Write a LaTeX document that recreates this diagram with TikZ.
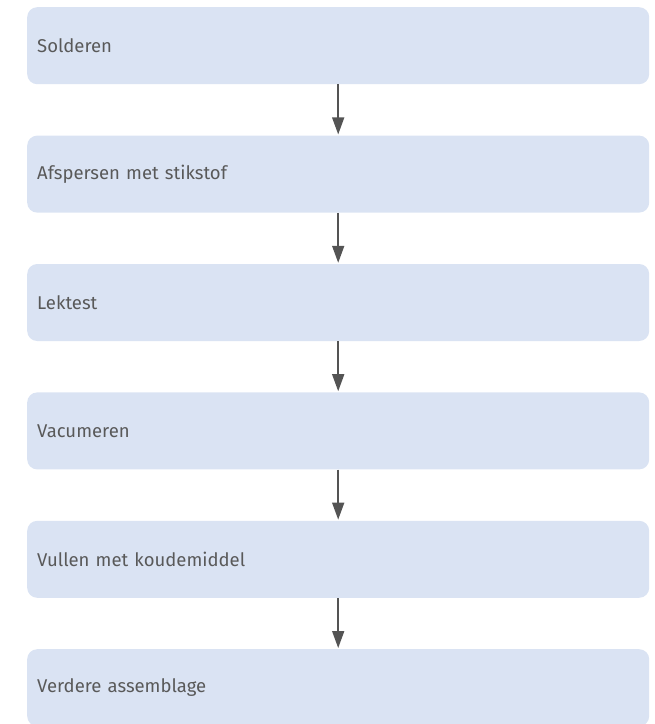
\documentclass[tikz,border=0pt]{standalone}
\usepackage{fontspec}
\setmainfont{Fira Sans}
\usepackage{xcolor}
\definecolor{stepFill}{HTML}{DAE3F3}
\definecolor{stepText}{HTML}{595959}
\definecolor{flowArrow}{HTML}{545454}
\usetikzlibrary{positioning,arrows.meta}

\tikzset{
  stepbox/.style={fill=stepFill, rounded corners=10pt, minimum width=622pt,
    minimum height=77pt, text width=602pt, inner xsep=10pt, align=left,
    text=stepText, font=\fontsize{18.5pt}{21pt}\selectfont},
  flow/.style={draw=flowArrow, line width=1.6pt,
    -{Triangle[length=17pt,width=12pt]}, shorten >=1pt}
}

\begin{document}
\begin{tikzpicture}[x=1pt,y=1pt]
  \useasboundingbox (0,0) rectangle (655,-724);
  % ------- the steps -------
  \node[stepbox, anchor=north west] (solder) at (27,-7) {Solderen};
  \node[stepbox, below=51pt of solder] (flush) {Afspersen met stikstof};
  \node[stepbox, below=51pt of flush] (leak) {Lektest};
  \node[stepbox, below=51pt of leak] (vac) {Vacumeren};
  \node[stepbox, below=51pt of vac] (fill) {Vullen met koudemiddel};
  \node[stepbox, below=51pt of fill] (assembly) {Verdere assemblage};
  % ------- arrows between them -------
  \foreach \a/\b in {solder/flush, flush/leak, leak/vac, vac/fill, fill/assembly} {
    \draw[flow] (\a.south) -- (\b.north);
  }
\end{tikzpicture}
\end{document}
